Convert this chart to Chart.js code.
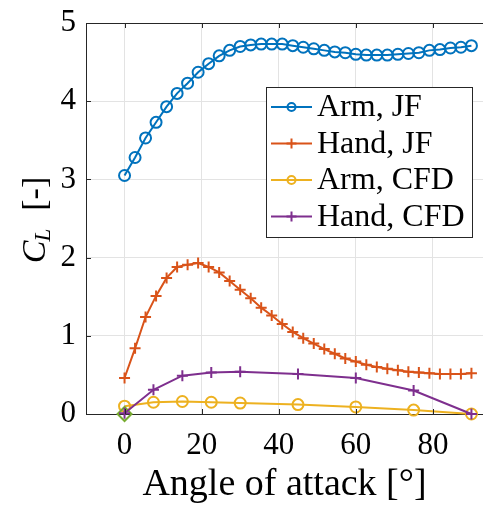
<!DOCTYPE html>
<html>
<head>
<meta charset="utf-8">
<script src="https://cdn.jsdelivr.net/npm/chart.js@4/dist/chart.umd.min.js"></script>
<style>
  html, body { margin: 0; padding: 0; background: #ffffff; }
  #wrap { width: 483px; height: 510px; position: relative; }
</style>
</head>
<body>
<div id="wrap"><canvas id="cl" width="483" height="510"></canvas></div>
<script>
// Angle of attack samples [deg] for the jet-flow (JF) model
const angleJF = [0, 2.73, 5.45, 8.18, 10.91, 13.64, 16.36, 19.09, 21.82, 24.55, 27.27, 30,
  32.73, 35.45, 38.18, 40.91, 43.64, 46.36, 49.09, 51.82, 54.55, 57.27, 60, 62.73,
  65.45, 68.18, 70.91, 73.64, 76.36, 79.09, 81.82, 84.55, 87.27, 90];
// Angle of attack samples [deg] for the CFD runs
const angleCFD = [0, 7.5, 15, 22.5, 30, 45, 60, 75, 90];

// Lift coefficient C_L
const armJF = [3.05, 3.28, 3.53, 3.73, 3.93, 4.10, 4.23, 4.37, 4.48, 4.58, 4.65, 4.70,
  4.72, 4.73, 4.73, 4.73, 4.71, 4.69, 4.67, 4.65, 4.63, 4.62, 4.60, 4.59,
  4.59, 4.59, 4.60, 4.61, 4.62, 4.65, 4.66, 4.68, 4.69, 4.71];
const handJF = [0.46, 0.84, 1.24, 1.51, 1.74, 1.88, 1.91, 1.93, 1.88, 1.81, 1.70, 1.59,
  1.48, 1.36, 1.26, 1.15, 1.05, 0.97, 0.90, 0.83, 0.77, 0.71, 0.67, 0.63,
  0.60, 0.58, 0.56, 0.54, 0.53, 0.52, 0.51, 0.51, 0.51, 0.52];
const armCFD = [0.10, 0.15, 0.16, 0.15, 0.14, 0.12, 0.09, 0.05, 0.00];
const handCFD = [0.01, 0.31, 0.49, 0.53, 0.54, 0.51, 0.46, 0.30, 0.00];
// Reference point at zero incidence
const refAngle = [0];
const refCL = [0];

const xTicks = [0, 20, 40, 60, 80];
const yTicks = [0, 1, 2, 3, 4, 5];

const FONT = "'Liberation Serif', 'DejaVu Serif', serif";
const INK = '#262626';

const pts = (xs, ys) => xs.map((x, i) => ({ x: x, y: ys[i] }));

function series(label, xs, ys, color, style, radius, order, inLegend) {
  return {
    label: label,
    data: pts(xs, ys),
    borderColor: color,
    backgroundColor: 'rgba(0,0,0,0)',
    borderWidth: 2,
    pointStyle: style,
    pointRadius: radius,
    pointBorderWidth: 2,
    pointBorderColor: color,
    pointBackgroundColor: 'rgba(0,0,0,0)',
    pointHoverRadius: radius,
    tension: 0,
    order: order,
    clip: false,
    showLine: inLegend,
    inLegend: inLegend
  };
}

// Box legend placed inside the axes, plus the top frame line, inward ticks and the y label
const axesExtras = {
  id: 'axesExtras',
  afterDatasetsDraw(chart) {
    const ctx = chart.ctx;
    const a = chart.chartArea;
    const xs = chart.scales.x, ys = chart.scales.y;
    ctx.save();
    ctx.strokeStyle = INK;
    ctx.lineWidth = 1;
    ctx.beginPath();
    ctx.moveTo(a.left, a.top + 0.5);
    ctx.lineTo(a.right, a.top + 0.5);
    xTicks.forEach(v => {
      const px = Math.round(xs.getPixelForValue(v)) + 0.5;
      ctx.moveTo(px, a.bottom); ctx.lineTo(px, a.bottom - 5);
      ctx.moveTo(px, a.top); ctx.lineTo(px, a.top + 5);
    });
    yTicks.forEach(v => {
      const py = Math.round(ys.getPixelForValue(v)) + 0.5;
      ctx.moveTo(a.left, py); ctx.lineTo(a.left + 5, py);
    });
    ctx.stroke();

    // legend
    const bx = 266, by = 87, bw = 206, bh = 150;
    ctx.fillStyle = '#ffffff';
    ctx.fillRect(bx, by, bw, bh);
    ctx.strokeStyle = INK;
    ctx.strokeRect(bx + 0.5, by + 0.5, bw, bh);
    const rows = chart.data.datasets.filter(d => d.inLegend);
    ctx.font = '32px ' + FONT;
    ctx.textBaseline = 'middle';
    ctx.textAlign = 'left';
    rows.forEach((d, i) => {
      const cy = by + 20 + i * 36.5;
      ctx.strokeStyle = d.borderColor;
      ctx.lineWidth = 2;
      ctx.beginPath();
      ctx.moveTo(bx + 5, cy); ctx.lineTo(bx + 46, cy);
      ctx.stroke();
      const mx = bx + 25.5;
      ctx.beginPath();
      if (d.pointStyle === 'circle') {
        ctx.arc(mx, cy, 4, 0, Math.PI * 2);
      } else {
        ctx.moveTo(mx - 5, cy); ctx.lineTo(mx + 5, cy);
        ctx.moveTo(mx, cy - 5); ctx.lineTo(mx, cy + 5);
      }
      ctx.stroke();
      ctx.fillStyle = '#000000';
      ctx.fillText(d.label, bx + 51, cy + 1);
    });

    // y-axis label C_L [-]
    ctx.translate(34, 220);
    ctx.rotate(-Math.PI / 2);
    ctx.fillStyle = '#000000';
    ctx.textBaseline = 'alphabetic';
    ctx.font = 'italic 34px ' + FONT;
    const wC = ctx.measureText('C').width;
    ctx.font = 'italic 23px ' + FONT;
    const wL = ctx.measureText('L').width;
    ctx.font = '34px ' + FONT;
    const wB = ctx.measureText('  [-]').width;
    let x0 = -(wC + wL + wB) / 2;
    const base = 11;
    ctx.font = 'italic 34px ' + FONT;
    ctx.fillText('C', x0, base);
    x0 += wC;
    ctx.font = 'italic 23px ' + FONT;
    ctx.fillText('L', x0 - 1, base + 5);
    x0 += wL;
    ctx.font = '34px ' + FONT;
    ctx.fillText('  [-]', x0, base);
    ctx.restore();
  }
};

new Chart(document.getElementById('cl'), {
  type: 'line',
  data: {
    datasets: [
      series('Arm, JF', angleJF, armJF, '#0072BD', 'circle', 5.5, 5, true),
      series('Hand, JF', angleJF, handJF, '#D95319', 'cross', 5.5, 4, true),
      series('Arm, CFD', angleCFD, armCFD, '#EDB120', 'circle', 5.5, 3, true),
      series('Hand, CFD', angleCFD, handCFD, '#7E2F8E', 'cross', 5.5, 1, true),
      series('ref', refAngle, refCL, '#77AC30', 'rectRot', 7, 2, false)
    ]
  },
  options: {
    responsive: false,
    animation: false,
    events: [],
    layout: { autoPadding: false, padding: { top: 23, right: 0, bottom: 0, left: 0 } },
    plugins: { legend: { display: false }, tooltip: { enabled: false } },
    scales: {
      x: {
        type: 'linear',
        min: -10,
        max: 93,
        afterBuildTicks: s => { s.ticks = xTicks.map(v => ({ value: v })); },
        afterFit: s => { s.height = 96; s.paddingLeft = 0; s.paddingRight = 0; },
        grid: { color: '#e3e3e3', lineWidth: 1, drawTicks: false },
        border: { display: true, color: INK, width: 1 },
        ticks: { font: { family: FONT, size: 31 }, color: '#000000', padding: 13, maxRotation: 0 },
        title: {
          display: true,
          text: 'Angle of attack [°]',
          font: { family: FONT, size: 38 },
          color: '#000000',
          padding: { top: 0, bottom: 2 }
        }
      },
      y: {
        type: 'linear',
        min: 0,
        max: 5,
        afterBuildTicks: s => { s.ticks = yTicks.map(v => ({ value: v })); },
        afterFit: s => { s.width = 86; s.paddingTop = 0; s.paddingBottom = 0; },
        grid: { color: '#e3e3e3', lineWidth: 1, drawTicks: false },
        border: { display: true, color: INK, width: 1 },
        ticks: { font: { family: FONT, size: 31 }, color: '#000000', padding: 10 }
      }
    }
  },
  plugins: [axesExtras]
});
</script>
</body>
</html>
